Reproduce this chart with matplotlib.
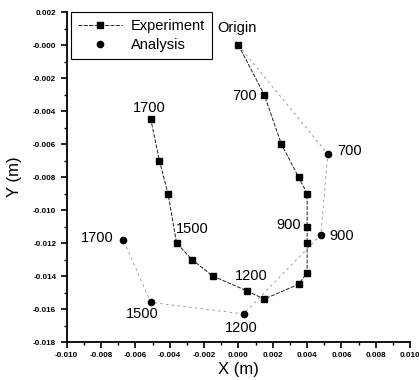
import matplotlib
matplotlib.use("Agg")
import matplotlib.pyplot as plt
from matplotlib.ticker import MultipleLocator, FormatStrFormatter

plt.rcParams['font.family'] = ['Liberation Sans', 'DejaVu Sans']
plt.rcParams['axes.unicode_minus'] = False

# experiment path (m)
exp_x = [0.0000, 0.0015, 0.0025, 0.0035, 0.0040, 0.0040, 0.0040, 0.0040,
         0.0035, 0.0015, 0.0005, -0.0015, -0.0027, -0.0036, -0.0041,
         -0.0046, -0.0051]
exp_y = [0.0000, -0.0030, -0.0060, -0.0080, -0.0090, -0.0110, -0.0120,
         -0.0138, -0.0145, -0.0154, -0.0149, -0.0140, -0.0130, -0.0120,
         -0.0090, -0.0070, -0.0045]

# analysis path (m), starts at origin
ana_x = [0.0000, 0.0052, 0.0048, 0.0003, -0.0051, -0.0067]
ana_y = [0.0000, -0.0066, -0.0115, -0.0163, -0.0156, -0.0118]

# labelled points: (text, index, offset in pixels)
exp_labels = [("Origin", 0, (-1, 17)), ("700", 1, (-20, -1)),
              ("900", 5, (-18, 2)), ("1200", 10, (4, 15)),
              ("1500", 13, (16, 14)), ("1700", 16, (-2, 11))]
ana_labels = [("700", 1, (22, 3)), ("900", 2, (21, -1)),
              ("1200", 3, (-2, -14)), ("1500", 4, (-9, -12)),
              ("1700", 5, (-26, 2))]

fig = plt.figure(figsize=(4.19, 3.8), dpi=100)
ax = fig.add_axes([0.159, 0.1, 0.82, 0.868])

ax.plot(ana_x, ana_y, color='#8a8a8a', lw=0.6, ls=(0, (3, 4)), zorder=1)
ax.plot(ana_x[1:], ana_y[1:], 'o', color='black', ms=4.5, ls='none',
        label='Analysis', zorder=3)
ax.plot(exp_x, exp_y, color='#222222', lw=0.7, ls=(0, (4, 1.5)),
        marker='s', ms=4.5, mfc='black', mec='black', label='Experiment',
        zorder=2)

for txt, i, off in exp_labels:
    ax.annotate(txt, (exp_x[i], exp_y[i]), xytext=off,
                textcoords='offset pixels', ha='center', va='center',
                fontsize=10.5)
for txt, i, off in ana_labels:
    ax.annotate(txt, (ana_x[i], ana_y[i]), xytext=off,
                textcoords='offset pixels', ha='center', va='center',
                fontsize=10.5)

ax.set_xlim(-0.010, 0.010)
ax.set_ylim(-0.018, 0.002)
ax.xaxis.set_major_locator(MultipleLocator(0.002))
ax.xaxis.set_minor_locator(MultipleLocator(0.001))
ax.yaxis.set_major_locator(MultipleLocator(0.002))
ax.yaxis.set_minor_locator(MultipleLocator(0.001))
ax.xaxis.set_major_formatter(FormatStrFormatter('%.3f'))
ax.yaxis.set_major_formatter(FormatStrFormatter('%.3f'))
ax.tick_params(which='major', direction='out', length=4, width=1.2,
               labelsize=5.8)
ax.tick_params(which='minor', direction='out', length=2, width=1)
for lab in ax.get_xticklabels() + ax.get_yticklabels():
    lab.set_fontweight('bold')

ax.spines['top'].set_visible(False)
ax.spines['right'].set_visible(False)
ax.spines['left'].set_linewidth(1.3)
ax.spines['bottom'].set_linewidth(1.3)

ax.set_xlabel('X (m)', fontsize=12, labelpad=2)
ax.set_ylabel('Y (m)', fontsize=12, labelpad=8)

handles, labels = ax.get_legend_handles_labels()
leg = ax.legend(handles[::-1], labels[::-1], loc='upper left',
                bbox_to_anchor=(0.012, 1.0), borderaxespad=0,
                fontsize=10.5, frameon=True, fancybox=False,
                edgecolor='black', framealpha=1, borderpad=0.5,
                handlelength=3.0, handletextpad=0.6, labelspacing=0.3)
leg.get_frame().set_linewidth(0.8)

fig.savefig('out.png', dpi=100)
